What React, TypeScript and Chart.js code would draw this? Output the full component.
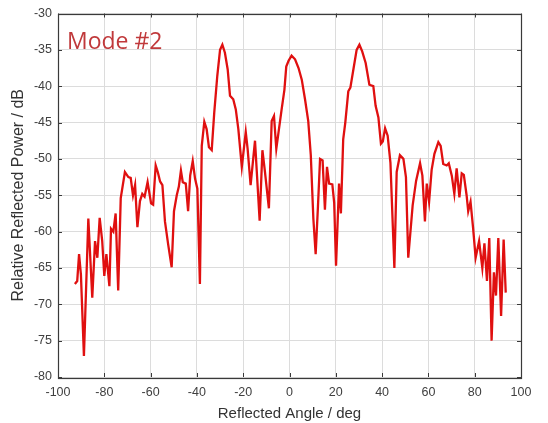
import React, { useEffect, useRef } from "react";
import { Chart, registerables } from "chart.js";

Chart.register(...registerables);

// Reflected angle (deg) of each sample
const angles: number[] = [
  -92.7, -91.7, -90.9, -90.1, -88.8, -86.9, -85.2, -84.0, -83.0, -82.0,
  -80.9, -80.0, -79.1, -77.8, -77.1, -76.1, -75.1, -74.0, -72.9, -71.1,
  -69.6, -68.6, -67.6, -66.7, -65.7, -64.6, -63.6, -62.6, -61.3, -59.8,
  -58.9, -57.8, -56.9, -55.9, -54.9, -53.8, -52.4, -50.9, -49.9, -48.7,
  -47.8, -46.9, -46.1, -44.8, -43.8, -42.9, -41.8, -40.8, -39.8, -38.7,
  -37.9, -36.8, -35.8, -34.8, -33.6, -32.5, -31.2, -30.0, -29.0, -27.9,
  -26.7, -25.7, -24.3, -23.2, -22.1, -20.6, -18.9, -18.1, -16.8, -14.9,
  -12.9, -11.7, -10.6, -8.9, -7.7, -6.7, -5.7, -4.8, -3.4, -2.2,
  -1.4, -0.4, 0.9, 2.4, 3.9, 5.3, 6.7, 8.1, 9.2, 10.3,
  11.3, 12.3, 13.2, 14.3, 15.3, 16.2, 17.1, 18.5, 19.3, 20.1,
  21.4, 22.2, 23.2, 24.1, 25.4, 26.3, 27.7, 29.0, 30.2, 31.4,
  32.9, 34.5, 36.2, 37.2, 38.4, 39.5, 40.3, 41.3, 42.4, 43.6,
  45.3, 46.3, 47.7, 49.2, 50.3, 51.3, 53.2, 54.7, 56.4, 57.4,
  58.5, 59.3, 60.3, 61.4, 62.6, 64.3, 65.3, 66.4, 67.9, 68.8,
  70.1, 71.2, 72.2, 73.4, 74.4, 75.3, 76.5, 77.2, 78.2, 79.3,
  80.4, 81.9, 83.3, 84.2, 85.3, 86.3, 87.3, 88.3, 89.2, 90.2,
  91.4, 92.5, 93.4,
];

// Relative reflected power (dB) at each angle
const power: number[] = [
  -67.2, -66.8, -63.1, -65.9, -77.1, -58.2, -69.1, -61.3, -63.6, -58.1,
  -61.3, -66.1, -63.1, -67.5, -59.6, -60.0, -57.5, -68.1, -55.4, -51.8,
  -52.5, -52.6, -55.0, -53.6, -59.4, -55.8, -54.8, -55.2, -53.2, -56.1,
  -56.3, -50.9, -51.8, -53.1, -53.6, -58.6, -61.8, -64.9, -57.2, -55.0,
  -53.8, -51.6, -53.2, -53.4, -57.2, -52.3, -50.3, -52.7, -54.1, -67.2,
  -48.2, -44.9, -45.9, -48.4, -48.8, -43.6, -38.6, -35.0, -34.3, -35.4,
  -37.7, -41.3, -41.8, -43.2, -45.9, -51.1, -46.3, -48.6, -53.6, -47.5,
  -58.5, -48.8, -51.8, -56.8, -44.8, -44.1, -48.6, -46.5, -43.2, -40.5,
  -37.3, -36.5, -35.8, -36.3, -37.5, -39.1, -41.8, -44.8, -49.5, -58.2,
  -63.1, -56.5, -50.0, -50.2, -57.0, -51.1, -53.4, -53.5, -56.0, -64.7,
  -53.4, -57.5, -47.3, -45.0, -40.7, -40.2, -37.5, -35.0, -34.3, -35.2,
  -36.8, -39.8, -40.0, -42.7, -44.3, -47.9, -47.6, -45.8, -46.8, -50.5,
  -65.0, -51.8, -49.5, -50.0, -52.5, -63.6, -56.4, -53.0, -50.6, -52.3,
  -58.6, -53.4, -55.9, -51.5, -49.3, -47.7, -48.2, -50.7, -50.9, -50.6,
  -52.3, -54.8, -51.3, -55.3, -52.0, -52.2, -55.0, -57.2, -55.9, -59.5,
  -63.6, -61.3, -65.0, -61.6, -66.8, -60.9, -75.0, -65.6, -68.8, -60.9,
  -71.6, -61.1, -68.4,
];

const xMin = -100;
const xMax = 100;
const xStep = 20;
const yMin = -80;
const yMax = -30;
const yStep = 5;

const xTitle = "Reflected Angle / deg";
const yTitle = "Relative Reflected Power / dB";
const modeLabel = "Mode #2";

const FONT = "'Liberation Sans', Arial, sans-serif";

// Box outline, inward ticks on all four sides and the mode caption
const framePlugin = {
  id: "frame",
  afterDraw(chart: any) {
    const { ctx, chartArea } = chart;
    const { left, right, top, bottom } = chartArea;
    const xs = chart.scales.x;
    const ys = chart.scales.y;
    ctx.save();
    ctx.strokeStyle = "#3a3a3a";
    ctx.lineWidth = 1;
    ctx.beginPath();
    for (let v = xMin; v <= xMax; v += xStep) {
      const px = Math.round(xs.getPixelForValue(v)) + 0.5;
      ctx.moveTo(px, bottom);
      ctx.lineTo(px, bottom - 4);
      ctx.moveTo(px, top);
      ctx.lineTo(px, top + 4);
    }
    for (let v = yMin; v <= yMax; v += yStep) {
      const py = Math.round(ys.getPixelForValue(v)) + 0.5;
      ctx.moveTo(left, py);
      ctx.lineTo(left + 4, py);
      ctx.moveTo(right, py);
      ctx.lineTo(right - 4, py);
    }
    ctx.stroke();
    ctx.lineWidth = 1.2;
    ctx.strokeRect(Math.round(left) + 0.5, Math.round(top) + 0.5, Math.round(right - left), Math.round(bottom - top));

    ctx.fillStyle = "#c0393b";
    ctx.font = `23px 'Open Sans', 'Noto Sans', sans-serif`;
    ctx.textBaseline = "middle";
    ctx.textAlign = "left";
    ctx.fillText(modeLabel, left + 9, top + 29);
    ctx.restore();
  },
};

export default function App() {
  const canvasRef = useRef<HTMLCanvasElement | null>(null);

  useEffect(() => {
    if (!canvasRef.current) return;
    const points = angles.map((a, i) => ({ x: a, y: power[i] }));
    const chart = new Chart(canvasRef.current, {
      type: "line",
      data: {
        datasets: [
          {
            data: points,
            borderColor: "#e01010",
            borderWidth: 2.3,
            pointRadius: 0,
            tension: 0,
            fill: false,
          },
        ],
      },
      options: {
        animation: false,
        responsive: false,
        maintainAspectRatio: false,
        layout: { padding: { top: 10, right: 27, left: 0, bottom: 0 } },
        plugins: {
          legend: { display: false },
          tooltip: { enabled: false },
        },
        scales: {
          x: {
            type: "linear",
            min: xMin,
            max: xMax,
            ticks: {
              stepSize: xStep,
              color: "#404040",
              font: { family: FONT, size: 12.5 },
              padding: 8,
              maxRotation: 0,
            },
            grid: { color: "#dcdcdc", drawTicks: false },
            border: { display: false },
            title: {
              display: true,
              text: xTitle,
              color: "#333333",
              font: { family: FONT, size: 15 },
              padding: { top: 2, bottom: 0 },
            },
            afterFit(scale: any) {
              scale.height = 46;
            },
          },
          y: {
            type: "linear",
            min: yMin,
            max: yMax,
            ticks: {
              stepSize: yStep,
              color: "#404040",
              font: { family: FONT, size: 12.5 },
              padding: 6,
            },
            grid: { color: "#dcdcdc", drawTicks: false },
            border: { display: false },
            title: {
              display: true,
              text: yTitle,
              color: "#333333",
              font: { family: FONT, size: 16 },
              padding: { top: 9, bottom: 4 },
            },
            afterFit(scale: any) {
              scale.width = 58;
            },
          },
        },
      },
      plugins: [framePlugin],
    });
    return () => chart.destroy();
  }, []);

  return (
    <div style={{ position: "fixed", left: 0, top: 0, width: 548, height: 423, background: "#ffffff" }}>
      <canvas ref={canvasRef} width={548} height={423} style={{ display: "block" }} />
    </div>
  );
}
